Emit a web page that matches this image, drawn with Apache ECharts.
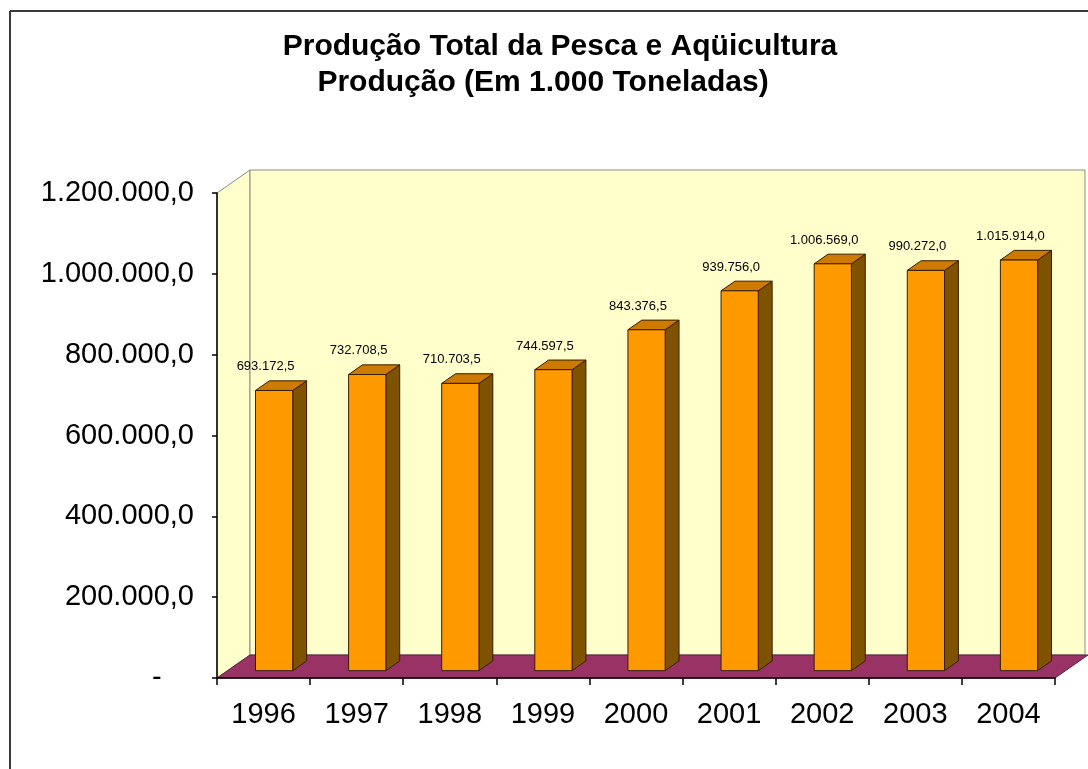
<!DOCTYPE html>
<html>
<head>
<meta charset="utf-8">
<script src="https://cdn.jsdelivr.net/npm/echarts@6/dist/echarts.min.js"></script>
<style>html,body{margin:0;padding:0;background:#fff;}#c{width:1088px;height:769px;}</style>
</head>
<body>
<div id="c"></div>
<script>
const categories = ['1996', '1997', '1998', '1999', '2000', '2001', '2002', '2003', '2004'];
const values = [693172.5, 732708.5, 710703.5, 744597.5, 843376.5, 939756.0, 1006569.0, 990272.0, 1015914.0];
const yMin = 0, yMax = 1200000, yStep = 200000;
const titleLines = ['Produção Total da Pesca e Aqüicultura', 'Produção (Em 1.000 Toneladas)'];

function fmt(v) {
  const neg = v < 0; v = Math.abs(v);
  const s = v.toFixed(1);
  const [ip, dp] = s.split('.');
  const withDots = ip.replace(/\B(?=(\d{3})+(?!\d))/g, '.');
  return (neg ? '-' : '') + withDots + ',' + dp;
}

const DX = 33, DY = -23;          // depth offset of the 3D box
const F0 = 0.32, F1 = 0.74;       // bar depth position (fractions)
const FONT = '"Liberation Sans", Arial, sans-serif';

const chart = echarts.init(document.getElementById('c'), null, {renderer: 'canvas'});

const option = {
  backgroundColor: '#ffffff',
  animation: false,
  grid: {left: 217, top: 193, width: 838, height: 485, containLabel: false},
  xAxis: {
    type: 'category', data: categories, z: 10,
    axisLine: {show: true, lineStyle: {color: '#000', width: 1.5}},
    axisTick: {show: true, length: 7, lineStyle: {color: '#000', width: 1.5}},
    axisLabel: {color: '#000', fontSize: 29, fontFamily: FONT, margin: 22},
    splitLine: {show: false}
  },
  yAxis: {
    type: 'value', min: yMin, max: yMax, interval: yStep, z: 10,
    axisLine: {show: true, lineStyle: {color: '#000', width: 1.5}},
    axisTick: {show: true, length: 5, lineStyle: {color: '#000', width: 1.5}},
    axisLabel: {color: '#000', fontSize: 29, fontFamily: FONT, margin: 23,
      formatter: v => v === 0 ? '-    ' : fmt(v)},
    splitLine: {show: false}
  },
  graphic: [
    {type: 'line', shape: {x1: 10, y1: 11, x2: 1088, y2: 11}, style: {stroke: '#3a3a3a', lineWidth: 2}, z: 100},
    {type: 'line', shape: {x1: 10, y1: 11, x2: 10, y2: 769}, style: {stroke: '#3a3a3a', lineWidth: 2}, z: 100},
    {type: 'text', x: 560, y: 47, z: 100, style: {text: titleLines[0], textAlign: 'center', textVerticalAlign: 'middle', font: 'bold 30px ' + FONT, fill: '#000'}},
    {type: 'text', x: 543, y: 83, z: 100, style: {text: titleLines[1], textAlign: 'center', textVerticalAlign: 'middle', font: 'bold 30px ' + FONT, fill: '#000'}}
  ],
  series: [
    {
      type: 'custom', z: 1, silent: true,
      data: [[0, 0]],
      renderItem: function (params, api) {
        const cs = params.coordSys;
        const x = cs.x, y = cs.y, w = cs.width, h = cs.height;
        return {
          type: 'group',
          children: [
            {type: 'polygon', shape: {points: [[x, y + h], [x, y], [x + DX, y + DY], [x + DX, y + h + DY]]},
              style: {fill: '#FFFFCC', stroke: '#8a8a8a', lineWidth: 1}},
            {type: 'polygon', shape: {points: [[x + DX, y + DY], [x + w + DX - 3, y + DY], [x + w + DX - 3, y + h + DY], [x + DX, y + h + DY]]},
              style: {fill: '#FFFFCC', stroke: '#8a8a8a', lineWidth: 1}},
            {type: 'polygon', shape: {points: [[x, y + h], [x + w, y + h], [x + w + DX, y + h + DY], [x + DX, y + h + DY]]},
              style: {fill: '#993366', stroke: '#5c1f42', lineWidth: 1}}
          ]
        };
      }
    },
    {
      type: 'custom', z: 2,
      data: values.map((v, i) => [i, v]),
      renderItem: function (params, api) {
        const idx = api.value(0), val = api.value(1);
        const base = api.coord([idx, 0]);
        const top = api.coord([idx, val]);
        const band = api.size([1, 0])[0];
        const bw = band * 0.4;
        const ox = F0 * DX, oy = F0 * DY;
        const dx = (F1 - F0) * DX, dy = (F1 - F0) * DY;
        const L = base[0] - bw / 2 + ox, R = base[0] + bw / 2 + ox;
        const by = base[1] + oy, ty = top[1] + oy;
        const st = '#3a1d00';
        return {
          type: 'group',
          children: [
            {type: 'polygon', shape: {points: [[R, by], [R, ty], [R + dx, ty + dy], [R + dx, by + dy]]},
              style: {fill: '#7F5200', stroke: st, lineWidth: 1}},
            {type: 'polygon', shape: {points: [[L, ty], [R, ty], [R + dx, ty + dy], [L + dx, ty + dy]]},
              style: {fill: '#CC7A00', stroke: st, lineWidth: 1}},
            {type: 'rect', shape: {x: L, y: ty, width: R - L, height: by - ty},
              style: {fill: '#FF9900', stroke: st, lineWidth: 1}},
            {type: 'text', x: base[0] + 2, y: top[1] - 31,
              style: {text: fmt(val), textAlign: 'center', textVerticalAlign: 'middle', font: '13px ' + FONT, fill: '#000'}}
          ]
        };
      }
    }
  ]
};
chart.setOption(option);
</script>
</body>
</html>
